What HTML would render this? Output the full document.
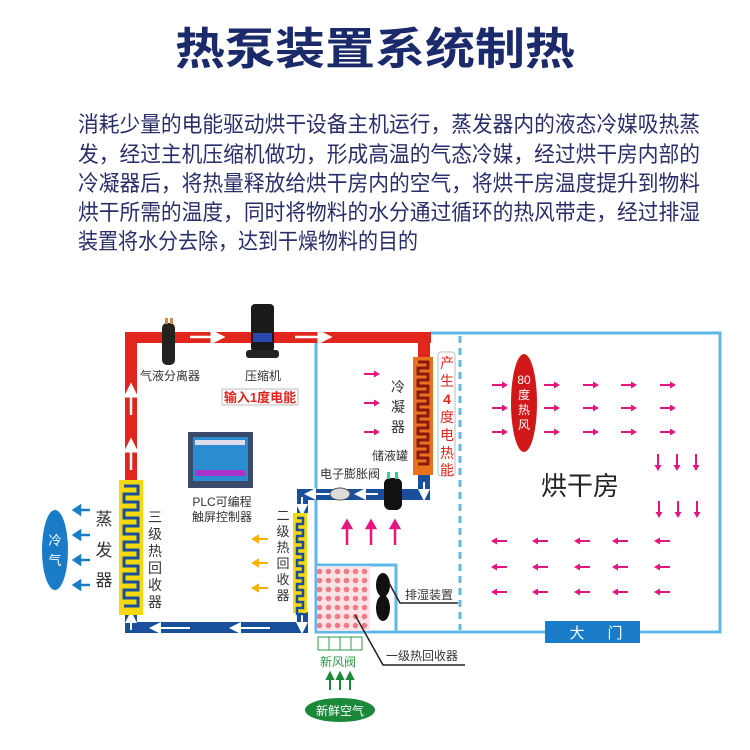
<!DOCTYPE html>
<html><head><meta charset="utf-8"><style>
html,body{margin:0;padding:0;background:#fff;}
svg{display:block;}
text{font-family:"Liberation Sans","Noto Sans CJK SC",sans-serif;}
</style></head><body>
<svg width="750" height="750" viewBox="0 0 750 750" xmlns="http://www.w3.org/2000/svg">
<defs>
<marker id="aw" markerWidth="6" markerHeight="6" refX="3" refY="3" orient="auto"><path d="M0,0 L6,3 L0,6 z" fill="#fff"/></marker>
<pattern id="dots" width="9" height="9" patternUnits="userSpaceOnUse"><rect width="9" height="9" fill="#fbe3e6"/><circle cx="4.5" cy="4.5" r="2.8" fill="#f27a86"/></pattern>
<g id="r"><line x1="-8" y1="0" x2="3" y2="0" stroke="#e5157f" stroke-width="2"/><path d="M2,-3.5 L8,0 L2,3.5z" fill="#e5157f"/></g>
<g id="l"><line x1="8" y1="0" x2="-3" y2="0" stroke="#e5157f" stroke-width="2"/><path d="M-2,-3.5 L-8,0 L-2,3.5z" fill="#e5157f"/></g>
<g id="d"><line x1="0" y1="-9" x2="0" y2="3" stroke="#e5157f" stroke-width="2"/><path d="M-3.5,2 L0,8 L3.5,2z" fill="#e5157f"/></g>
</defs>
<text x="375" y="64" text-anchor="middle" font-size="44" font-weight="bold" fill="#1b2a6b" textLength="400" lengthAdjust="spacingAndGlyphs">热泵装置系统制热</text>
<g font-size="22" fill="#2a2f6a">
<text x="78" y="132" textLength="622" lengthAdjust="spacingAndGlyphs">消耗少量的电能驱动烘干设备主机运行，蒸发器内的液态冷媒吸热蒸</text>
<text x="78" y="162" textLength="622" lengthAdjust="spacingAndGlyphs">发，经过主机压缩机做功，形成高温的气态冷媒，经过烘干房内部的</text>
<text x="78" y="191" textLength="622" lengthAdjust="spacingAndGlyphs">冷凝器后，将热量释放给烘干房内的空气，将烘干房温度提升到物料</text>
<text x="78" y="220" textLength="622" lengthAdjust="spacingAndGlyphs">烘干所需的温度，同时将物料的水分通过循环的热风带走，经过排湿</text>
<text x="78" y="249" textLength="340" lengthAdjust="spacingAndGlyphs">装置将水分去除，达到干燥物料的目的</text>
</g>
<g stroke="#5fb8e8" stroke-width="3" fill="none">
<path d="M316,343 V632 H720 V333 H430"/>
<line x1="460" y1="336" x2="460" y2="630" stroke-dasharray="7,5"/>
<rect x="316" y="565" width="80" height="67"/>
</g>
<g fill="#e0261d">
<rect x="125" y="332" width="306" height="11"/>
<rect x="125" y="332" width="12" height="150"/>
<rect x="418" y="332" width="12" height="26"/>
</g>
<g stroke="#fff" stroke-width="2.5" marker-end="url(#aw)">
<line x1="131" y1="470" x2="131" y2="445"/><line x1="131" y1="415" x2="131" y2="390"/>
<line x1="190" y1="337" x2="218" y2="337"/><line x1="295" y1="337" x2="325" y2="337"/>
</g>
<rect x="162" y="323" width="13" height="42" rx="5" fill="#222"/>
<rect x="165" y="318" width="3" height="6" fill="#c85"/><rect x="170" y="318" width="3" height="6" fill="#c85"/>
<rect x="251" y="304" width="23" height="48" rx="4" fill="#1a1a1a"/>
<rect x="253" y="333" width="19" height="9" fill="#2848b0"/>
<rect x="246" y="350" width="33" height="8" rx="3" fill="#222"/>
<g font-size="12" fill="#333">
<text x="140" y="380">气液分离器</text>
<text x="245" y="380">压缩机</text>
</g>
<rect x="222" y="389" width="76" height="16" fill="#fff" stroke="#bbb"/>
<text x="260" y="402" text-anchor="middle" font-size="13" font-weight="bold" fill="#e0261d">输入1度电能</text>
<rect x="413" y="357" width="20" height="118" fill="#e8731c"/>
<path d="M418,362 h10 v6 h-10 v6 h10 v6 h-10 v6 h10 v6 h-10 v6 h10 v6 h-10 v6 h10 v6 h-10 v6 h10 v6 h-10 v6 h10 v6 h-10 v6 h10 v6 h-10 v6 h10 v6 h-10" fill="none" stroke="#8a1a10" stroke-width="3"/>
<rect x="438" y="352" width="17" height="124" rx="3" fill="#fff" stroke="#bbb"/>
<g font-size="14" fill="#e0261d" text-anchor="middle">
<text x="447" y="368">产</text><text x="447" y="386">生</text><text x="447" y="404" font-weight="bold">4</text><text x="447" y="422">度</text><text x="447" y="440">电</text><text x="447" y="458">热</text><text x="447" y="475">能</text>
</g>
<use href="#r" x="372" y="374"/><use href="#r" x="372" y="403"/><use href="#r" x="372" y="432"/>
<g font-size="14" fill="#333" text-anchor="middle">
<text x="398" y="392">冷</text><text x="398" y="412">凝</text><text x="398" y="432">器</text>
</g>
<text x="372" y="460" font-size="12" fill="#333">储液罐</text>
<text x="320" y="478" font-size="12" fill="#333">电子膨胀阀</text>
<g fill="#1a4f9c">
<rect x="418" y="475" width="12" height="25"/>
<rect x="297" y="489" width="133" height="11"/>
<rect x="297" y="489" width="11" height="24"/>
<rect x="125" y="613" width="12" height="20"/>
<rect x="125" y="622" width="183" height="11"/>
<rect x="297" y="612" width="11" height="21"/>
</g>
<g stroke="#fff" stroke-width="2" marker-end="url(#aw)">
<line x1="424" y1="482" x2="424" y2="495"/><line x1="378" y1="494" x2="360" y2="494"/><line x1="330" y1="494" x2="310" y2="494"/><line x1="302" y1="497" x2="302" y2="510"/>
<line x1="302" y1="614" x2="302" y2="628"/><line x1="270" y1="628" x2="235" y2="628"/><line x1="190" y1="628" x2="155" y2="628"/><line x1="131" y1="630" x2="131" y2="617"/>
</g>
<ellipse cx="340" cy="494" rx="10" ry="6" fill="#ddd" stroke="#555"/>
<rect x="384" y="478" width="18" height="32" rx="6" fill="#111"/>
<rect x="387" y="472" width="3" height="7" fill="#3c9"/><rect x="395" y="472" width="3" height="7" fill="#3c9"/>
<g stroke="#e5157f" stroke-width="2.5" fill="#e5157f">
<line x1="347" y1="545" x2="347" y2="528"/><path d="M343,528 l4,-7 l4,7z"/>
<line x1="371" y1="545" x2="371" y2="528"/><path d="M367,528 l4,-7 l4,7z"/>
<line x1="395" y1="545" x2="395" y2="528"/><path d="M391,528 l4,-7 l4,7z"/>
</g>
<rect x="293" y="513" width="14" height="100" fill="#f5d80e"/>
<path d="M297,518 h6 v6 h-6 v6 h6 v6 h-6 v6 h6 v6 h-6 v6 h6 v6 h-6 v6 h6 v6 h-6 v6 h6 v6 h-6 v6 h6 v6 h-6 v6 h6 v6 h-6 v6 h6" fill="none" stroke="#1a4f9c" stroke-width="2.5"/>
<g font-size="13" fill="#333" text-anchor="middle">
<text x="283" y="520">二</text><text x="283" y="536">级</text><text x="283" y="552">热</text><text x="283" y="568">回</text><text x="283" y="584">收</text><text x="283" y="600">器</text>
</g>
<g stroke="#f5b400" stroke-width="2" fill="#f5b400">
<line x1="268" y1="539" x2="258" y2="539"/><path d="M258,536 l-5,3 l5,3z"/>
<line x1="268" y1="563" x2="258" y2="563"/><path d="M258,560 l-5,3 l5,3z"/>
<line x1="268" y1="588" x2="258" y2="588"/><path d="M258,585 l-5,3 l5,3z"/>
</g>
<rect x="119" y="480" width="24" height="135" fill="#f5d80e"/>
<path d="M124,486 h14 v8 h-14 v8 h14 v8 h-14 v8 h14 v8 h-14 v8 h14 v8 h-14 v8 h14 v8 h-14 v8 h14 v8 h-14 v8 h14 v8 h-14 v8 h14 v8 h-14" fill="none" stroke="#1a4f9c" stroke-width="3"/>
<g font-size="14" fill="#333" text-anchor="middle">
<text x="155" y="522">三</text><text x="155" y="539">级</text><text x="155" y="556">热</text><text x="155" y="573">回</text><text x="155" y="590">收</text><text x="155" y="607">器</text>
</g>
<g font-size="17" fill="#333" text-anchor="middle">
<text x="104" y="525">蒸</text><text x="104" y="556">发</text><text x="104" y="586">器</text>
</g>
<g stroke="#1a7cc7" stroke-width="2.5" fill="#1a7cc7">
<line x1="90" y1="510" x2="80" y2="510"/><path d="M80,506 l-6,4 l6,4z"/>
<line x1="90" y1="535" x2="80" y2="535"/><path d="M80,531 l-6,4 l6,4z"/>
<line x1="90" y1="560" x2="80" y2="560"/><path d="M80,556 l-6,4 l6,4z"/>
<line x1="90" y1="585" x2="80" y2="585"/><path d="M80,581 l-6,4 l6,4z"/>
</g>
<ellipse cx="55" cy="550" rx="13" ry="40" fill="#1a7cc7"/>
<text x="55" y="545" font-size="13" fill="#fff" text-anchor="middle">冷</text>
<text x="55" y="565" font-size="13" fill="#fff" text-anchor="middle">气</text>
<rect x="188" y="432" width="65" height="56" fill="#3a4a6a"/>
<rect x="193" y="437" width="55" height="44" fill="#2a8dd0"/>
<rect x="195" y="440" width="50" height="5" fill="#dde"/>
<rect x="195" y="470" width="50" height="6" fill="#a3c"/>
<g font-size="12" fill="#333" text-anchor="middle">
<text x="222" y="506">PLC可编程</text><text x="222" y="521">触屏控制器</text>
</g>
<rect x="317" y="566" width="53" height="65" fill="url(#dots)"/>
<ellipse cx="383" cy="585" rx="7" ry="12" fill="#111"/><ellipse cx="383" cy="608" rx="7" ry="13" fill="#111"/>
<polyline points="389,583 400,603 458,603" fill="none" stroke="#222" stroke-width="1.5"/>
<text x="405" y="599" font-size="12" fill="#333">排湿装置</text>
<polyline points="355,615 383,665 465,665" fill="none" stroke="#222" stroke-width="1.5"/>
<text x="386" y="660" font-size="12" fill="#333">一级热回收器</text>
<g stroke="#2a9a4a" stroke-width="1" fill="none">
<rect x="318" y="637" width="44" height="13"/><line x1="329" y1="637" x2="329" y2="650"/><line x1="340" y1="637" x2="340" y2="650"/><line x1="351" y1="637" x2="351" y2="650"/>
</g>
<text x="320" y="666" font-size="12" fill="#2a9a4a">新风阀</text>
<g stroke="#1a8a3a" stroke-width="2" fill="#1a8a3a">
<line x1="330" y1="690" x2="330" y2="678"/><path d="M327,679 l3,-6 l3,6z"/>
<line x1="340" y1="690" x2="340" y2="678"/><path d="M337,679 l3,-6 l3,6z"/>
<line x1="350" y1="690" x2="350" y2="678"/><path d="M347,679 l3,-6 l3,6z"/>
</g>
<ellipse cx="340" cy="710" rx="35" ry="12" fill="#1a8a3a"/>
<text x="340" y="715" font-size="12" fill="#fff" text-anchor="middle">新鲜空气</text>
<ellipse cx="524" cy="403" rx="13" ry="49" fill="#d01818"/>
<g font-size="12" fill="#fff" text-anchor="middle">
<text x="524" y="384">80</text><text x="524" y="399">度</text><text x="524" y="414">热</text><text x="524" y="429">风</text>
</g>
<use href="#r" x="500" y="385"/><use href="#r" x="500" y="408"/><use href="#r" x="500" y="432"/>
<use href="#r" x="552" y="385"/><use href="#r" x="552" y="408"/><use href="#r" x="552" y="432"/>
<use href="#r" x="591" y="385"/><use href="#r" x="591" y="408"/><use href="#r" x="591" y="432"/>
<use href="#r" x="629" y="385"/><use href="#r" x="629" y="408"/><use href="#r" x="629" y="432"/>
<use href="#r" x="668" y="385"/><use href="#r" x="668" y="408"/><use href="#r" x="668" y="432"/>
<use href="#d" x="658" y="463"/><use href="#d" x="677" y="463"/><use href="#d" x="696" y="463"/>
<use href="#d" x="659" y="510"/><use href="#d" x="678" y="510"/><use href="#d" x="697" y="510"/>
<use href="#l" x="499" y="541"/><use href="#l" x="540" y="541"/><use href="#l" x="582" y="541"/><use href="#l" x="620" y="541"/><use href="#l" x="662" y="541"/>
<use href="#l" x="499" y="567"/><use href="#l" x="540" y="567"/><use href="#l" x="582" y="567"/><use href="#l" x="620" y="567"/><use href="#l" x="662" y="567"/>
<use href="#l" x="499" y="592"/><use href="#l" x="540" y="592"/><use href="#l" x="582" y="592"/><use href="#l" x="620" y="592"/><use href="#l" x="662" y="592"/>
<text x="541" y="495" font-size="26" fill="#222">烘干房</text>
<rect x="545" y="621" width="95" height="22" fill="#1a7cc7"/>
<text x="577" y="638" font-size="15" fill="#fff" text-anchor="middle">大</text>
<text x="615" y="638" font-size="15" fill="#fff" text-anchor="middle">门</text>
</svg>
</body></html>
